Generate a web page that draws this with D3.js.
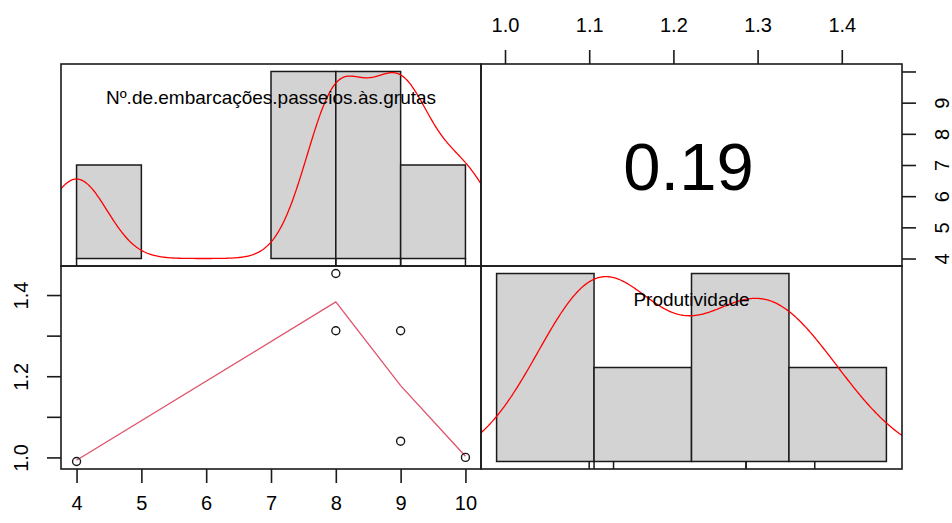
<!DOCTYPE html>
<meta charset="utf-8">
<script src="https://d3js.org/d3.v7.min.js"></script>
<style>
  body { margin: 0; background: #fff; }
  text { font-family: "Liberation Sans", Arial, sans-serif; fill: #000; }
</style>
<div id="chart"></div>
<script>

// observations, one per row of the source table
var embarcacoes   = [4, 8, 8, 9, 9, 10];
var produtividade = [0.99, 1.453, 1.312, 1.312, 1.04, 1.0];
var varNames = ["Nº.de.embarcações.passeios.às.grutas", "Produtividade"];

// histogram breaks (R "FD" rule, as in the picture)
var breaksEmb  = [4, 5, 6, 7, 8, 9, 10];
var breaksProd = [0.8, 1.0, 1.2, 1.4, 1.6];

// lowess smoother in the scatter panel
var smoothX = [4, 8, 9, 10];
var smoothY = [0.993, 1.383, 1.177, 1.003];

// axis ticks and labels
var ticksBottom  = [4, 5, 6, 7, 8, 9, 10];
var ticksLeft    = [1.0, 1.1, 1.2, 1.3, 1.4];
var labelsLeft   = ["1.0", "", "1.2", "", "1.4"];
var ticksTop     = [1.0, 1.1, 1.2, 1.3, 1.4];
var labelsTop    = ["1.0", "1.1", "1.2", "1.3", "1.4"];
var ticksRight   = [4, 5, 6, 7, 8, 9, 10];
var labelsRight  = ["4", "5", "6", "7", "8", "9", ""];

var width = 952, height = 523;
var cols = [61, 481, 902],
    rows = [64, 266, 469];

var svg = d3.select("#chart")
  .append("svg")
    .attr("width", width)
    .attr("height", height);

// R style axis range: 4% padding on both sides
function pad(ext) {
  var d = (ext[1] - ext[0]) * 0.04;
  return [ext[0] - d, ext[1] + d];
}

// scales for the pairs grid
var xEmb  = d3.scaleLinear().domain(pad(d3.extent(embarcacoes))).range([cols[0], cols[1]]);
var yProd = d3.scaleLinear().domain(pad(d3.extent(produtividade))).range([rows[2], rows[1]]);
var xProd = d3.scaleLinear().domain(pad(d3.extent(produtividade))).range([cols[1], cols[2]]);
var yEmb  = d3.scaleLinear().domain(pad(d3.extent(embarcacoes))).range([rows[1], rows[0]]);

// histogram with (a,b] bins, lowest included, as R does
function histR(values, breaks) {
  var n = values.length, out = [];
  for (var i = 0; i < breaks.length - 1; i++) {
    var a = breaks[i], b = breaks[i + 1];
    var c = values.filter(function(v) { return (v > a || (i === 0 && v >= a)) && v <= b; }).length;
    out.push({x0: a, x1: b, density: c / (n * (b - a))});
  }
  return out;
}

// gaussian kernel density with bw.nrd0
function bwNrd0(values) {
  var s = values.slice().sort(d3.ascending);
  var iqr = d3.quantileSorted(s, 0.75) - d3.quantileSorted(s, 0.25);
  var lo = Math.min(d3.deviation(s), iqr / 1.34);
  return 0.9 * lo * Math.pow(s.length, -0.2);
}
function density(values) {
  var bw = bwNrd0(values);
  var lo = d3.min(values) - 3 * bw, hi = d3.max(values) + 3 * bw;
  return d3.range(512).map(function(i) {
    var x = lo + i * (hi - lo) / 511;
    var y = d3.mean(values, function(v) {
      var u = (x - v) / bw;
      return Math.exp(-0.5 * u * u) / Math.sqrt(2 * Math.PI);
    }) / bw;
    return [x, y];
  });
}

// clip paths for each panel
var defs = svg.append("defs");
function clip(id, x0, x1, y0, y1) {
  defs.append("clipPath").attr("id", id)
    .append("rect").attr("x", x0).attr("y", y0)
    .attr("width", x1 - x0).attr("height", y1 - y0);
}

// diagonal panel: histogram + density + rug + name
function diagPanel(values, breaks, name, x0, x1, y0, y1, id) {
  var bins = histR(values, breaks);
  var hx = d3.scaleLinear().domain(pad([breaks[0], breaks[breaks.length - 1]])).range([x0, x1]);
  var hy = d3.scaleLinear().domain(pad([0, d3.max(bins, function(d) { return d.density; })])).range([y1, y0]);
  clip(id, x0, x1, y0, y1);
  var g = svg.append("g").attr("clip-path", "url(#" + id + ")");

  g.selectAll("rect.bar")
    .data(bins)
    .enter()
    .append("rect")
      .attr("class", "bar")
      .attr("x", function(d) { return hx(d.x0); })
      .attr("width", function(d) { return hx(d.x1) - hx(d.x0); })
      .attr("y", function(d) { return hy(d.density); })
      .attr("height", function(d) { return hy(0) - hy(d.density); })
      .attr("fill", "#d3d3d3")
      .attr("stroke", "#1a1a1a")
      .attr("stroke-width", 1.5);

  g.append("path")
    .datum(density(values))
    .attr("d", d3.line()
      .x(function(d) { return hx(d[0]); })
      .y(function(d) { return hy(d[1]); }))
    .attr("fill", "none")
    .attr("stroke", "#ff0000")
    .attr("stroke-width", 1.3);

  g.selectAll("line.rug")
    .data(values)
    .enter()
    .append("line")
      .attr("class", "rug")
      .attr("x1", function(d) { return hx(d); })
      .attr("x2", function(d) { return hx(d); })
      .attr("y1", y1)
      .attr("y2", y1 - 8)
      .attr("stroke", "#1a1a1a")
      .attr("stroke-width", 1.5);

  svg.append("text")
    .attr("x", (x0 + x1) / 2)
    .attr("y", y1 - (y1 - y0) * 0.8333)
    .attr("dy", "0.35em")
    .attr("text-anchor", "middle")
    .attr("font-size", "19px")
    .attr("fill", "#111")
    .text(name);
}

diagPanel(embarcacoes, breaksEmb, varNames[0], cols[0], cols[1], rows[0], rows[1], "c11");
diagPanel(produtividade, breaksProd, varNames[1], cols[1], cols[2], rows[1], rows[2], "c22");

// lower panel: scatter + lowess
clip("c21", cols[0], cols[1], rows[1], rows[2]);
var lower = svg.append("g").attr("clip-path", "url(#c21)");

lower.append("path")
  .datum(d3.zip(smoothX, smoothY))
  .attr("d", d3.line()
    .x(function(d) { return xEmb(d[0]); })
    .y(function(d) { return yProd(d[1]); }))
  .attr("fill", "none")
  .attr("stroke", "#df536b")
  .attr("stroke-width", 1.3);

lower.selectAll("circle")
  .data(d3.zip(embarcacoes, produtividade))
  .enter()
  .append("circle")
    .attr("cx", function(d) { return xEmb(d[0]); })
    .attr("cy", function(d) { return yProd(d[1]); })
    .attr("r", 4)
    .attr("fill", "none")
    .attr("stroke", "#1a1a1a")
    .attr("stroke-width", 1.4);

// upper panel: correlation coefficient
var mx = d3.mean(embarcacoes), my = d3.mean(produtividade);
var sxy = d3.sum(embarcacoes, function(v, i) { return (v - mx) * (produtividade[i] - my); });
var r = sxy / Math.sqrt(
  d3.sum(embarcacoes, function(v) { return (v - mx) * (v - mx); }) *
  d3.sum(produtividade, function(v) { return (v - my) * (v - my); }));

svg.append("text")
  .attr("x", (cols[1] + cols[2]) / 2 - 3)
  .attr("y", (rows[0] + rows[1]) / 2 + 2)
  .attr("dy", "0.35em")
  .attr("text-anchor", "middle")
  .attr("font-size", "67px")
  .text(d3.format(".2f")(r));

// panel boxes
for (var i = 0; i < 2; i++) {
  for (var j = 0; j < 2; j++) {
    svg.append("rect")
      .attr("x", cols[j]).attr("y", rows[i])
      .attr("width", cols[j + 1] - cols[j])
      .attr("height", rows[i + 1] - rows[i])
      .attr("fill", "none")
      .attr("stroke", "#1a1a1a")
      .attr("stroke-width", 1.6);
  }
}

// axes
function styleAxis(g) {
  g.select(".domain").remove();
  g.selectAll(".tick line").attr("stroke", "#1a1a1a").attr("stroke-width", 1.6);
  g.selectAll(".tick text").attr("font-size", "20px").attr("fill", "#111")
    .attr("font-family", "'Liberation Sans', Arial, sans-serif");
}

svg.append("g")
  .attr("transform", "translate(0," + rows[2] + ")")
  .call(d3.axisBottom(xEmb).tickValues(ticksBottom).tickSize(14).tickPadding(13)
    .tickFormat(d3.format("d")))
  .call(styleAxis);

svg.append("g")
  .attr("transform", "translate(0," + rows[0] + ")")
  .call(d3.axisTop(xProd).tickValues(ticksTop).tickSize(14).tickPadding(18)
    .tickFormat(function(d, i) { return labelsTop[i]; }))
  .call(styleAxis);

svg.append("g")
  .attr("transform", "translate(" + cols[0] + ",0)")
  .call(d3.axisLeft(yProd).tickValues(ticksLeft).tickSize(14)
    .tickFormat(function(d, i) { return labelsLeft[i]; }))
  .call(styleAxis)
  .selectAll(".tick text")
    .attr("x", null).attr("y", 0).attr("dy", "0.35em")
    .attr("text-anchor", "middle")
    .attr("transform", "translate(-40,0) rotate(-90)");

svg.append("g")
  .attr("transform", "translate(" + cols[2] + ",0)")
  .call(d3.axisRight(yEmb).tickValues(ticksRight).tickSize(14)
    .tickFormat(function(d, i) { return labelsRight[i]; }))
  .call(styleAxis)
  .selectAll(".tick text")
    .attr("x", null).attr("y", 0).attr("dy", "0.35em")
    .attr("text-anchor", "middle")
    .attr("transform", "translate(40,0) rotate(-90)");

</script>
